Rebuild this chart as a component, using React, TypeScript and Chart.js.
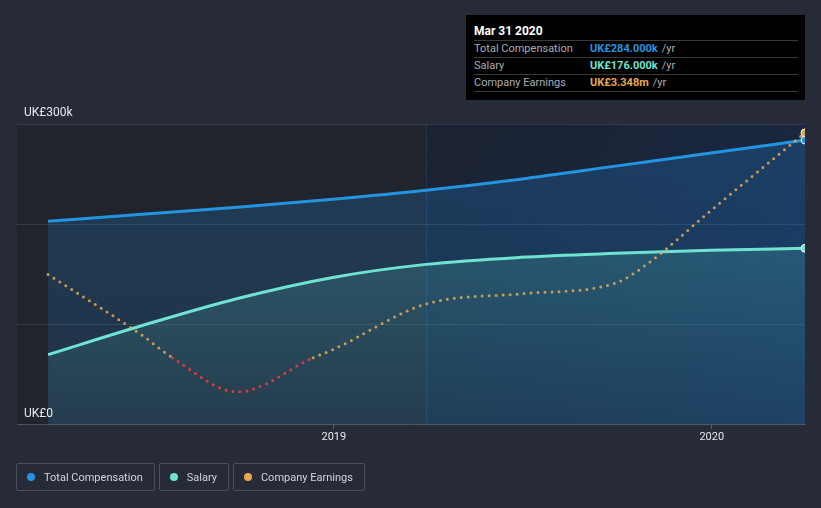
import React, { useEffect, useRef } from 'react';
import { Chart, registerables } from 'chart.js';

Chart.register(...registerables);

const FONT = 'Roboto, "Noto Sans", sans-serif';

// Data (UK£ thousands for compensation, UK£ millions for earnings)
const compDates = ['2018-03-31', '2018-06-30', '2018-09-30', '2018-12-31', '2019-03-31', '2019-06-30', '2019-09-30', '2019-12-31', '2020-03-31'];
const totalComp = [203, 210, 217, 225, 234, 245, 258, 271, 284];
const salary = [70, 99, 126, 147, 160, 167, 171, 174, 176];

const earnDates = ['2018-03-31', '2018-06-30', '2018-07-29', '2018-09-30', '2018-12-12', '2018-12-31', '2019-03-31', '2019-06-30', '2019-09-30', '2019-10-31', '2019-12-31', '2020-03-31'];
const earnings = [1.24, 0.33, 0, -0.51, 0, 0.12, 0.8, 0.95, 1.11, 1.4, 2.19, 3.348];

const xTickDates = ['2019-01-01', '2020-01-01'];
const xMinDate = '2018-03-01';
const xMaxDate = '2020-03-31';
const highlightStart = '2019-03-31';

const yTickLabels = ['UK£0', 'UK£300k'];
const yLabelValues = [0, 300];

const COMP = '#2394df';
const SAL = '#6fe3d0';
const EARN = 'rgba(232,170,82,0.85)';
const EARN_NEG = '#e5383b';

const ts = (s: string) => Date.parse(s);
const pts = (dates: string[], vals: number[]) => dates.map((d, i) => ({ x: ts(d), y: vals[i] }));

const bgPlugin = {
  id: 'bgPlugin',
  beforeDraw(chart: any) {
    const { ctx, chartArea: a, scales } = chart;
    const split = scales.x.getPixelForValue(ts(highlightStart));
    ctx.save();
    ctx.fillStyle = '#20242d';
    ctx.fillRect(a.left, a.top, split - a.left, a.bottom - a.top);
    const g = ctx.createLinearGradient(split, a.top, a.right, a.bottom);
    g.addColorStop(0, '#1b2232');
    g.addColorStop(1, '#182a47');
    ctx.fillStyle = g;
    ctx.fillRect(split, a.top, a.right - split, a.bottom - a.top);
    ctx.strokeStyle = 'rgba(70,110,170,0.25)';
    ctx.lineWidth = 1;
    ctx.beginPath();
    ctx.moveTo(Math.round(split) + 0.5, a.top);
    ctx.lineTo(Math.round(split) + 0.5, a.bottom);
    ctx.stroke();
    ctx.restore();
  },
};

const labelPlugin = {
  id: 'labelPlugin',
  afterDraw(chart: any) {
    const { ctx, chartArea: a, scales } = chart;
    ctx.save();
    ctx.font = `12px ${FONT}`;
    ctx.fillStyle = '#e6e9ee';
    ctx.textBaseline = 'alphabetic';
    ctx.textAlign = 'left';
    yTickLabels.forEach((t, i) => {
      const y = scales.y.getPixelForValue(yLabelValues[i]);
      ctx.fillText(t, a.left + 7, y - 8);
    });
    ctx.restore();
  },
};

function vGrad(ctx: any, top: string, bottom: string) {
  const { chart } = ctx;
  const a = chart.chartArea;
  if (!a) return top;
  const g = chart.ctx.createLinearGradient(0, a.top, 0, a.bottom);
  g.addColorStop(0, top);
  g.addColorStop(1, bottom);
  return g;
}

export default function App() {
  const ref = useRef<HTMLCanvasElement>(null);

  useEffect(() => {
    const canvas = ref.current!;
    const lastC = compDates.length - 1;
    const lastE = earnDates.length - 1;
    const chart = new Chart(canvas, {
      type: 'line',
      data: {
        datasets: [
          {
            label: 'Company Earnings',
            data: pts(earnDates, earnings),
            yAxisID: 'y2',
            borderColor: EARN,
            borderWidth: 3,
            borderDash: [0, 7],
            borderCapStyle: 'round',
            fill: false,
            cubicInterpolationMode: 'monotone',
            segment: {
              borderColor: (c: any) => (c.p0.parsed.y < 0 || c.p1.parsed.y < 0 ? EARN_NEG : EARN),
            },
            pointRadius: (c: any) => (c.dataIndex === lastE ? 4 : 0),
            pointBackgroundColor: '#d9a45c',
            pointBorderColor: '#f2f2f2',
            pointBorderWidth: 1,
            clip: 0,
          } as any,
          {
            label: 'Salary',
            data: pts(compDates, salary),
            yAxisID: 'y',
            borderColor: SAL,
            borderWidth: 3,
            fill: 'origin',
            backgroundColor: (c: any) => vGrad(c, 'rgba(100,230,210,0.25)', 'rgba(100,230,210,0.06)'),
            cubicInterpolationMode: 'monotone',
            pointRadius: (c: any) => (c.dataIndex === lastC ? 4 : 0),
            pointBackgroundColor: SAL,
            pointBorderColor: '#f2f2f2',
            pointBorderWidth: 1,
            clip: 0,
          } as any,
          {
            label: 'Total Compensation',
            data: pts(compDates, totalComp),
            yAxisID: 'y',
            borderColor: COMP,
            borderWidth: 3,
            fill: 'origin',
            backgroundColor: (c: any) => vGrad(c, 'rgba(33,150,243,0.22)', 'rgba(33,150,243,0.12)'),
            cubicInterpolationMode: 'monotone',
            pointRadius: (c: any) => (c.dataIndex === lastC ? 4 : 0),
            pointBackgroundColor: COMP,
            pointBorderColor: '#f2f2f2',
            pointBorderWidth: 1,
            clip: 0,
          } as any,
        ],
      },
      options: {
        animation: false,
        responsive: false,
        maintainAspectRatio: false,
        layout: { padding: { top: 124, left: 17, right: 16, bottom: 62 } },
        plugins: { legend: { display: false }, tooltip: { enabled: false } },
        scales: {
          x: {
            type: 'linear',
            min: ts(xMinDate),
            max: ts(xMaxDate),
            afterBuildTicks: (s: any) => {
              s.ticks = xTickDates.map((d) => ({ value: ts(d) }));
            },
            ticks: {
              callback: (v: any) => String(new Date(v).getUTCFullYear()),
              color: '#e6e9ee',
              font: { family: FONT, size: 11 },
              maxRotation: 0,
              autoSkip: false,
              padding: 2,
            },
            grid: { drawOnChartArea: false, tickLength: 4, color: '#5a606c' },
            border: { color: '#4b5160' },
          },
          y: {
            min: 0,
            max: 300,
            ticks: { display: false, stepSize: 100 },
            grid: { color: 'rgba(255,255,255,0.1)', drawTicks: false },
            border: { display: false },
          },
          y2: { display: false, min: -1.0, max: 3.48 },
        },
      } as any,
      plugins: [bgPlugin, labelPlugin],
    });
    return () => chart.destroy();
  }, []);

  const legendItems = [
    { label: 'Total Compensation', color: COMP },
    { label: 'Salary', color: SAL },
    { label: 'Company Earnings', color: '#e8a852' },
  ];

  const rows = [
    { label: 'Total Compensation', value: 'UK£284.000k', color: '#2394df' },
    { label: 'Salary', value: 'UK£176.000k', color: '#6fe3d0' },
    { label: 'Company Earnings', value: 'UK£3.348m', color: '#e8a852' },
  ];

  return (
    <div style={{ position: 'fixed', left: 0, top: 0, width: 821, height: 508, background: '#262b37', fontFamily: FONT, overflow: 'hidden' }}>
      <canvas ref={ref} width={821} height={508} style={{ position: 'absolute', left: 0, top: 0 }} />
      <div style={{ position: 'absolute', left: 466, top: 15, width: 339, height: 85, background: '#000', boxSizing: 'border-box', padding: '0 7px 0 8px' }}>
        <div style={{ color: '#fff', fontWeight: 700, fontSize: 12, height: 25, lineHeight: '32px' }}>Mar 31 2020</div>
        {rows.map((r) => (
          <div key={r.label} style={{ borderTop: '1px solid #3a3a3a', height: 16, lineHeight: '16px', fontSize: 11, display: 'flex' }}>
            <span style={{ color: '#a9adb3', width: 116 }}>{r.label}</span>
            <span style={{ color: r.color, fontWeight: 700 }}>{r.value}</span>
            <span style={{ color: '#a9adb3', marginLeft: 4 }}>/yr</span>
          </div>
        ))}
        <div style={{ borderTop: '1px solid #3a3a3a' }} />
      </div>
      <div style={{ position: 'absolute', left: 16, top: 463, display: 'flex', gap: 4 }}>
        {legendItems.map((it) => (
          <div key={it.label} style={{ height: 28, boxSizing: 'border-box', border: '1px solid #4a505c', borderRadius: 2, display: 'flex', alignItems: 'center', padding: '0 11px 0 10px' }}>
            <span style={{ width: 8, height: 8, borderRadius: 4, background: it.color, marginRight: 9 }} />
            <span style={{ color: '#d0d4da', fontSize: 11 }}>{it.label}</span>
          </div>
        ))}
      </div>
    </div>
  );
}
